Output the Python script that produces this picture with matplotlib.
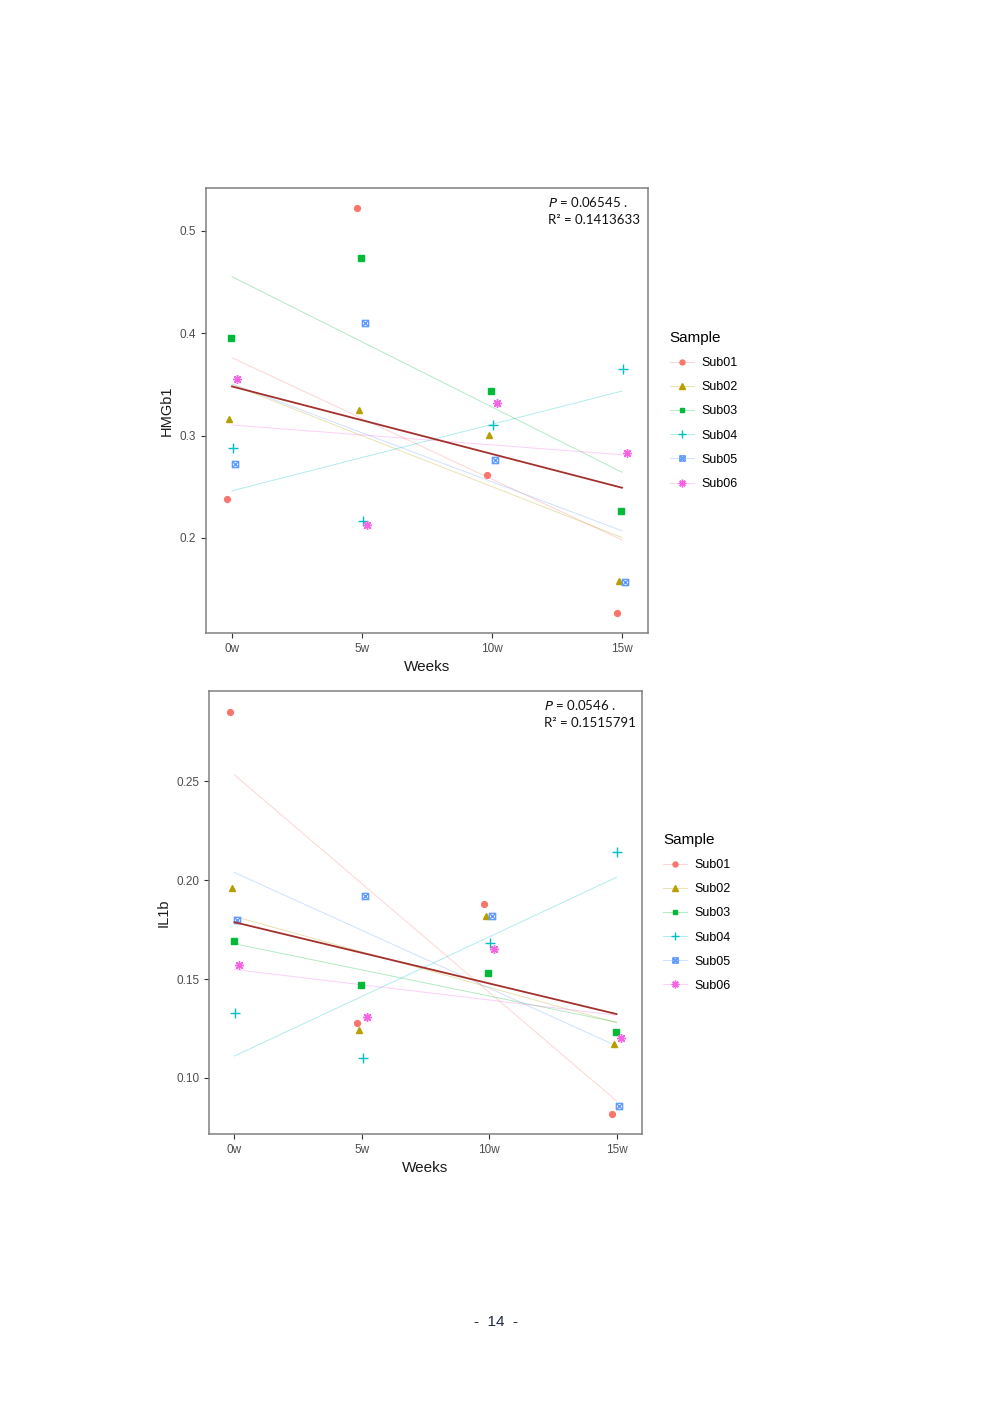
import numpy as np
import matplotlib
matplotlib.use("Agg")
import matplotlib.pyplot as plt
from matplotlib.lines import Line2D
from matplotlib.path import Path

plt.rcParams['font.family'] = ['Liberation Sans', 'DejaVu Sans']

weeks = [0, 5, 10, 15]
week_labels = ['0w', '5w', '10w', '15w']
samples = ['Sub01', 'Sub02', 'Sub03', 'Sub04', 'Sub05', 'Sub06']

# values, one row per sample, columns = weeks
hmgb1 = [
    [0.238, 0.522, 0.261, 0.127],
    [0.316, 0.325, 0.301, 0.158],
    [0.395, 0.474, 0.344, 0.226],
    [0.288, 0.216, 0.310, 0.365],
    [0.272, 0.410, 0.276, 0.157],
    [0.355, 0.213, 0.332, 0.283],
]
il1b = [
    [0.285, 0.128, 0.188, 0.082],
    [0.196, 0.124, 0.182, 0.117],
    [0.169, 0.147, 0.153, 0.123],
    [0.133, 0.110, 0.168, 0.214],
    [0.180, 0.192, 0.182, 0.086],
    [0.157, 0.131, 0.165, 0.120],
]
stats_hmgb1 = ('0.06545', '0.1413633')
stats_il1b = ('0.0546', '0.1515791')

colors = ['#F8766D', '#B79F00', '#00BA38', '#00BFC4', '#619CFF', '#F564E3']
boxx = Path([(-1, -1), (1, -1), (1, 1), (-1, 1), (-1, -1), (-1, -1), (1, 1), (-1, 1), (1, -1)],
            [Path.MOVETO, Path.LINETO, Path.LINETO, Path.LINETO, Path.CLOSEPOLY,
             Path.MOVETO, Path.LINETO, Path.MOVETO, Path.LINETO])
markers = ['o', '^', 's', '+', boxx, (8, 2, 0)]
msizes = [4.2, 5.0, 4.2, 6.5, 4.5, 6.5]
dodge = np.linspace(-0.19, 0.19, 6)

fig = plt.figure(figsize=(9.92, 14.03), dpi=100)


def panel(rect, data, ylabel, yticks, ylim, stats):
    ax = fig.add_axes(rect)
    x = np.array(weeks, dtype=float)
    allx, ally = [], []
    for i, s in enumerate(samples):
        y = np.array(data[i])
        k, b = np.polyfit(x, y, 1)
        ax.plot([0, 15], [b, b + 15 * k], color=colors[i], lw=0.7, alpha=0.3, zorder=2)
        filled = markers[i] in ('o', '^', 's')
        ax.plot(x + dodge[i], y, linestyle='none', marker=markers[i], ms=msizes[i],
                color=colors[i], mfc=colors[i] if filled else 'none', mew=1.0, zorder=3)
        allx += list(x)
        ally += list(y)
    k, b = np.polyfit(allx, ally, 1)
    ax.plot([0, 15], [b, b + 15 * k], color='#a3302c', lw=1.3, zorder=4)

    ax.set_xlim(-1.0, 16.0)
    ax.set_ylim(*ylim)
    ax.set_xticks(weeks)
    ax.set_xticklabels(week_labels)
    ax.set_yticks(yticks)
    ax.set_yticklabels(['%.2f' % t if ylabel == 'IL1b' else '%.1f' % t for t in yticks])
    ax.tick_params(colors='#333333', labelcolor='#4d4d4d', labelsize=8.5, length=3.5, width=0.8)
    for sp in ax.spines.values():
        sp.set_color('#808080')
        sp.set_linewidth(1.1)
    ax.set_xlabel('Weeks', fontsize=11, color='#1a1a1a', labelpad=4)
    ax.set_ylabel(ylabel, fontsize=10.5, color='#1a1a1a', labelpad=4)

    ax.text(0.773, 0.968, '$P$ = %s .' % stats[0], transform=ax.transAxes, fontsize=9.5,
            family='Lato', va='center', ha='left', color='#111111')
    ax.text(0.773, 0.928, 'R² = %s' % stats[1], transform=ax.transAxes, fontsize=9.5,
            family='Lato', va='center', ha='left', color='#111111')

    handles = []
    for i in range(6):
        filled = markers[i] in ('o', '^', 's')
        ln = Line2D([0], [0], color=colors[i], lw=0.7, alpha=0.3)
        mk = Line2D([0], [0], color=colors[i], linestyle='none',
                    marker=markers[i], ms=msizes[i] * 0.85,
                    mfc=colors[i] if filled else 'none', mew=1.0)
        handles.append((ln, mk))
    leg = ax.legend(handles, samples, loc='center left', bbox_to_anchor=(1.038, 0.5),
                    frameon=False, title='Sample', fontsize=9, title_fontsize=11,
                    handlelength=1.9, handletextpad=0.6, labelspacing=0.97,
                    borderaxespad=0.0)
    leg._legend_box.align = 'left'
    return ax


panel([206 / 992, 1 - 633 / 1403, 442 / 992, 445 / 1403], hmgb1, 'HMGb1',
      [0.2, 0.3, 0.4, 0.5], (0.107, 0.542), stats_hmgb1)
panel([209 / 992, 1 - 1134 / 1403, 433 / 992, 443 / 1403], il1b, 'IL1b',
      [0.10, 0.15, 0.20, 0.25], (0.0717, 0.2955), stats_il1b)

fig.text(0.5, 1 - 1322 / 1403, '-  14  -', ha='center', va='center', fontsize=11,
         color='#1f2a44')

fig.savefig('out.png', dpi=100)
